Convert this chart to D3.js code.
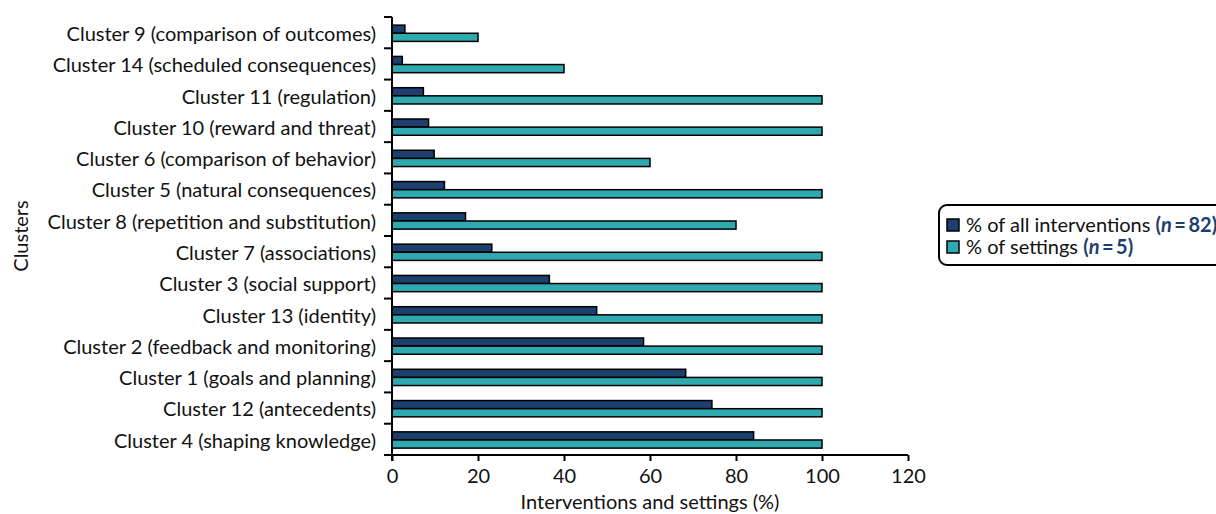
<!DOCTYPE html>
<html><head><meta charset="utf-8">
<script src="https://cdn.jsdelivr.net/npm/d3@7"></script>
<style>body{margin:0;background:#fff;} text{font-family:Lato, "Noto Sans", sans-serif;}</style>
</head><body>
<svg id="chart" width="1216" height="514"></svg>
<script>
const categories = [
  "Cluster 9 (comparison of outcomes)",
  "Cluster 14 (scheduled consequences)",
  "Cluster 11 (regulation)",
  "Cluster 10 (reward and threat)",
  "Cluster 6 (comparison of behavior)",
  "Cluster 5 (natural consequences)",
  "Cluster 8 (repetition and substitution)",
  "Cluster 7 (associations)",
  "Cluster 3 (social support)",
  "Cluster 13 (identity)",
  "Cluster 2 (feedback and monitoring)",
  "Cluster 1 (goals and planning)",
  "Cluster 12 (antecedents)",
  "Cluster 4 (shaping knowledge)"
];
const interventions = [3.0, 2.4, 7.3, 8.5, 9.8, 12.2, 17.1, 23.2, 36.6, 47.6, 58.5, 68.3, 74.4, 84.1];
const settings = [20, 40, 100, 100, 60, 100, 80, 100, 100, 100, 100, 100, 100, 100];
const xTicks = [0, 20, 40, 60, 80, 100, 120];
const seriesNames = ["% of all interventions", "% of settings"];
const seriesN = ["82", "5"];

const navy = "#1d3f6e", teal = "#2ea9af";
const FS = 20;
const svg = d3.select("#chart");
const x = d3.scaleLinear().domain([0, 120]).range([392, 908]);
const y = d3.scaleBand().domain(categories).range([17, 455]).padding(0);
const bw = y.bandwidth();

// bars
const g = svg.append("g");
categories.forEach((c, i) => {
  const y0 = y(c);
  g.append("rect").attr("x", x(0)).attr("y", y0 + bw * 0.26)
    .attr("width", x(interventions[i]) - x(0)).attr("height", bw * 0.26)
    .attr("fill", navy).attr("stroke", "#000").attr("stroke-width", 1.5);
  g.append("rect").attr("x", x(0)).attr("y", y0 + bw * 0.52)
    .attr("width", x(settings[i]) - x(0)).attr("height", bw * 0.26)
    .attr("fill", teal).attr("stroke", "#000").attr("stroke-width", 1.5);
});

// x axis
const xa = svg.append("g").attr("transform", "translate(0,455)")
  .call(d3.axisBottom(x).tickValues(xTicks).tickSize(6).tickSizeOuter(0).tickPadding(8));
xa.select(".domain").remove();
xa.selectAll("line").attr("stroke", "#000").attr("stroke-width", 2);
xa.selectAll("text").attr("font-size", FS).attr("fill", "#111").attr("font-family", "Lato");
svg.append("line").attr("x1", 384).attr("x2", x(120)).attr("y1", 455).attr("y2", 455)
  .attr("stroke", "#000").attr("stroke-width", 2);

// y axis
svg.append("line").attr("x1", x(0)).attr("x2", x(0)).attr("y1", 17).attr("y2", 461)
  .attr("stroke", "#000").attr("stroke-width", 2);
const bounds = categories.map(c => y(c));
svg.selectAll(".ytick").data(bounds).enter().append("line")
  .attr("x1", x(0) - 8).attr("x2", x(0)).attr("y1", d => d).attr("y2", d => d)
  .attr("stroke", "#000").attr("stroke-width", 2);
svg.selectAll(".ylab").data(categories).enter().append("text")
  .attr("x", 376).attr("y", d => y(d) + bw / 2).attr("dy", "0.42em")
  .attr("text-anchor", "end").attr("font-size", FS).attr("fill", "#111").text(d => d);

// axis titles
svg.append("text").attr("x", x(60)).attr("y", 509).attr("text-anchor", "middle")
  .attr("font-size", FS).attr("fill", "#111").text("Interventions and settings (%)");
svg.append("text").attr("transform", "translate(28,236) rotate(-90)").attr("text-anchor", "middle")
  .attr("font-size", FS).attr("fill", "#111").attr("font-family", "Open Sans").text("Clusters");

// legend
const lg = svg.append("g");
lg.append("rect").attr("x", 939).attr("y", 205).attr("width", 290).attr("height", 60)
  .attr("rx", 8).attr("fill", "#fff").attr("stroke", "#000").attr("stroke-width", 2);
[navy, teal].forEach((col, i) => {
  const yy = 225 + i * 22;
  lg.append("rect").attr("x", 947).attr("y", yy - 6).attr("width", 12).attr("height", 12)
    .attr("fill", col).attr("stroke", "#000").attr("stroke-width", 1.5);
  const t = lg.append("text").attr("x", 966).attr("y", yy).attr("dy", "0.35em")
    .attr("font-size", FS).attr("fill", "#111");
  t.append("tspan").text(seriesNames[i] + " ");
  t.append("tspan").attr("font-weight", "bold").attr("fill", navy).text("(");
  t.append("tspan").attr("font-weight", "bold").attr("font-style", "italic").attr("fill", navy).text("n");
  t.append("tspan").attr("font-weight", "bold").attr("fill", navy).text("\u2009=\u2009" + seriesN[i] + ")");
});
</script>
</body></html>
